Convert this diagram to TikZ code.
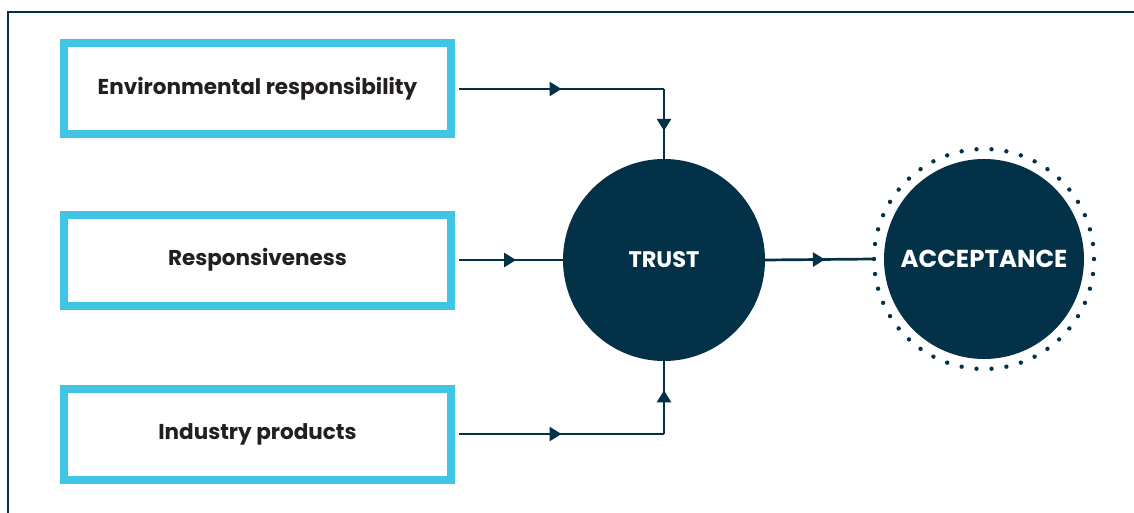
\documentclass[tikz,border=0pt]{standalone}
\usepackage{fontspec}
\setmainfont{Poppins}
\usetikzlibrary{decorations.markings,arrows.meta,calc}
\definecolor{navy}{HTML}{033147}
\definecolor{cyanb}{HTML}{41C5E4}
\definecolor{txt}{HTML}{231F20}
\tikzset{
  inbox/.style={draw=cyanb,line width=8pt,minimum width=387pt,minimum height=91pt,inner sep=0pt,font=\bfseries\fontsize{21.5}{24}\selectfont,text=txt},
  conn/.style={draw=navy,line width=2.7pt},
  midarr/.style={postaction={decorate},decoration={markings,mark=at position #1 with {\arrow{Triangle[length=12pt,width=14pt]}}}},
  bigc/.style={circle,fill=navy,inner sep=0pt,minimum size=#1,text=white},
}
\begin{document}
\begin{tikzpicture}[x=1pt,y=-1pt]
\useasboundingbox (0,0) rectangle (1134,513);
\begin{scope}
\clip (0,0) rectangle (1134,513);
\draw[navy,line width=2.5pt] (8,12) rectangle (1150,530);
\end{scope}
\node[inbox] (env) at (257.5,89) {Environmental responsibility};
\node[inbox] (resp) at (257.5,260) {Responsiveness};
\node[inbox] (ind) at (257.5,434) {Industry products};
\node[bigc=202pt,font=\bfseries\fontsize{22.5}{26}\selectfont] (trust) at (664,260) {\raisebox{-2pt}{TRUST}};
\node[bigc=200pt,font=\bfseries\fontsize{24.5}{28}\selectfont] (acc) at (984,259) {\raisebox{-4pt}{ACCEPTANCE}};
\node[circle,minimum size=220pt,inner sep=0pt] (ring) at (984,259) {};
\foreach \i in {0,...,45} {
  \fill[navy] ($(984,259)+(\i*360/46:110)$) circle (2.2pt);
}
\coordinate (c1) at (trust.north |- env.east);
\coordinate (c3) at (trust.south |- ind.east);
\draw[conn,midarr=0.5] ([xshift=4pt]env.east) -- (c1);
\draw[conn,midarr=0.6] (c1) -- (trust.north);
\draw[conn,midarr=0.55] ([xshift=4pt]resp.east) -- (trust.west);
\draw[conn,midarr=0.5] ([xshift=4pt]ind.east) -- (c3);
\draw[conn,midarr=0.6] (c3) -- (trust.south);
\draw[conn,midarr=0.55] (trust.east) -- (ring.west);
\end{tikzpicture}
\end{document}
